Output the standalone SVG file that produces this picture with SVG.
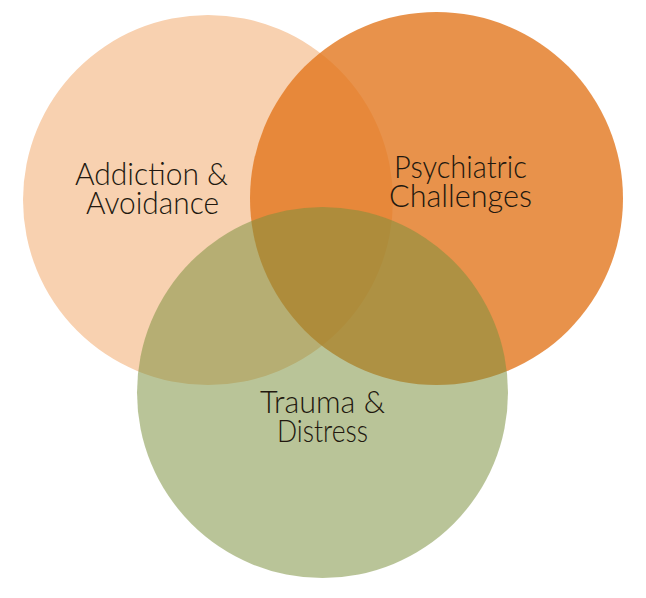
<svg xmlns="http://www.w3.org/2000/svg" width="646" height="598" viewBox="0 0 646 598">
  <style>
    .lbl { font-family: "Lato", "Open Sans", "Liberation Sans", sans-serif; font-weight: 300; font-size: 31px; fill: #22180f; text-anchor: middle; }
  </style>
  <rect width="646" height="598" fill="#ffffff"/>
  <g id="connectors"></g>
  <g id="addiction">
    <circle cx="208" cy="200" r="185" fill="#F8D1B0"/>
  </g>
  <g id="psychiatric">
    <circle cx="436.5" cy="198.5" r="186.5" fill="rgb(226,117,27)" fill-opacity="0.79"/>
  </g>
  <g id="trauma">
    <circle cx="322.5" cy="392.5" r="185.5" fill="rgb(123,143,60)" fill-opacity="0.53"/>
  </g>
  <g id="labels">
    <text class="lbl"><tspan x="151.5" y="185" textLength="153" lengthAdjust="spacingAndGlyphs">Addiction &amp;</tspan><tspan x="152.5" y="214" textLength="133" lengthAdjust="spacingAndGlyphs">Avoidance</tspan></text>
    <text class="lbl"><tspan x="460.5" y="178" textLength="133" lengthAdjust="spacingAndGlyphs">Psychiatric</tspan><tspan x="460.5" y="207" textLength="143" lengthAdjust="spacingAndGlyphs">Challenges</tspan></text>
    <text class="lbl"><tspan x="322.5" y="413" textLength="125" lengthAdjust="spacingAndGlyphs">Trauma &amp;</tspan><tspan x="322.5" y="442" textLength="91" lengthAdjust="spacingAndGlyphs">Distress</tspan></text>
  </g>
</svg>
